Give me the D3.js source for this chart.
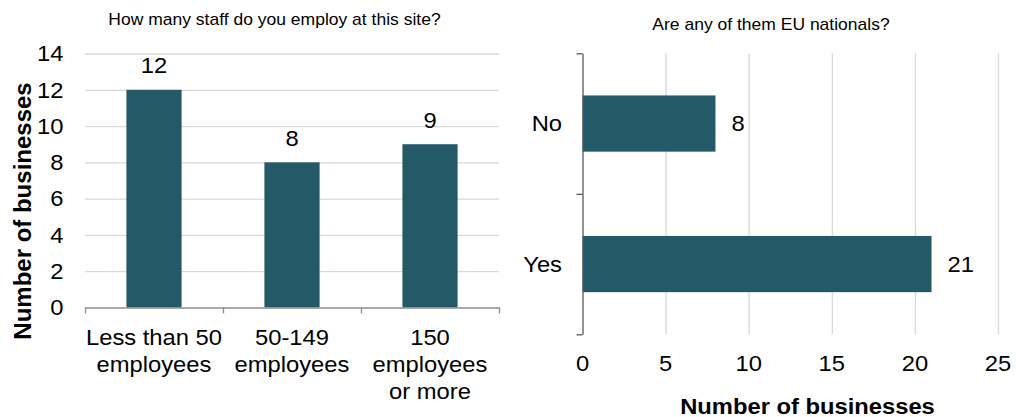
<!DOCTYPE html>
<html>
<head>
<meta charset="utf-8">
<script src="https://cdn.jsdelivr.net/npm/d3@7"></script>
<style>
  body { margin: 0; background: #fff; }
  text { font-family: "Liberation Sans", Arial, sans-serif; fill: #000; }
</style>
</head>
<body>
<svg id="chart" width="1019" height="417"></svg>
<script>
// Survey answers: staff headcount at the site
const sizeCategories = [["Less than 50", "employees"], ["50-149", "employees"], ["150", "employees", "or more"]];
const sizeCounts = [12, 8, 9];
const sizeTicks = [0, 2, 4, 6, 8, 10, 12, 14];

// Survey answers: whether any staff are EU nationals
const euCategories = ["No", "Yes"];
const euCounts = [8, 21];
const euTicks = [0, 5, 10, 15, 20, 25];

const BAR = "#245a68";
const GRID = "#d9d9d9";
const SX = 1.08; // slight horizontal widening of the typeface
const FS = 22;   // label font size

const svg = d3.select("#chart");

function label(g, x, y, str, size, anchor, weight) {
  return g.append("text")
    .attr("transform", `translate(${x},${y}) scale(${SX},1)`)
    .attr("text-anchor", anchor || "middle")
    .style("font-size", size + "px")
    .style("font-weight", weight || "normal")
    .text(str);
}

// ---------- Left: vertical bars ----------
const left = svg.append("g");
const xL = d3.scaleBand().domain(d3.range(sizeCategories.length)).range([85, 499])
  .paddingInner(0.6).paddingOuter(0.3);
const xLEdges = d3.scaleLinear().domain([0, sizeCategories.length]).range([85, 499]);
const yL = d3.scaleLinear().domain([0, 14]).range([307.5, 53.5]);

// horizontal gridlines
left.append("g")
  .attr("transform", "translate(85,0)")
  .call(d3.axisLeft(yL).tickValues(sizeTicks.filter(d => d > 0)).tickSize(-414).tickFormat(""))
  .call(g => g.select(".domain").remove())
  .call(g => g.selectAll(".tick line").attr("stroke", GRID).attr("stroke-width", 1.3));

// y tick labels
sizeTicks.forEach(t => {
  label(left, 63.5, yL(t) + 7.8, t, FS, "end");
});

// bars
left.selectAll("rect.bar").data(sizeCounts).join("rect")
  .attr("class", "bar")
  .attr("x", (d, i) => xL(i))
  .attr("width", xL.bandwidth())
  .attr("y", d => yL(d))
  .attr("height", d => yL(0) - yL(d))
  .attr("fill", BAR);

// value labels
sizeCounts.forEach((d, i) => {
  label(left, xL(i) + xL.bandwidth() / 2, yL(d) - 16.5, d, FS, "middle");
});

// category axis with ticks at band edges
left.append("g")
  .attr("transform", `translate(0,${yL(0)})`)
  .call(d3.axisBottom(xLEdges).tickValues(d3.range(sizeCategories.length + 1)).tickSize(6).tickSizeOuter(0).tickFormat(""))
  .call(g => g.selectAll("path, line").attr("stroke", "#8c8c8c").attr("stroke-width", 1.3));

sizeCategories.forEach((lines, i) => {
  lines.forEach((ln, j) => {
    label(left, xL(i) + xL.bandwidth() / 2, 344.5 + j * 27, ln, FS, "middle");
  });
});

label(left, 274.5, 24.5, "How many staff do you employ at this site?", 16.2, "middle");

left.append("text")
  .attr("transform", "translate(31,211) rotate(-90)")
  .attr("text-anchor", "middle")
  .style("font-size", "24px")
  .style("font-weight", "bold")
  .text("Number of businesses");

// ---------- Right: horizontal bars ----------
const right = svg.append("g");
const xR = d3.scaleLinear().domain([0, 25]).range([582.5, 998]);
const yR = d3.scaleBand().domain(euCategories).range([53.3, 334.3])
  .paddingInner(0.6).paddingOuter(0.3);
const yREdges = d3.scaleLinear().domain([0, euCategories.length]).range([53.3, 334.3]);

// vertical gridlines
right.append("g")
  .attr("transform", "translate(0,334.3)")
  .call(d3.axisBottom(xR).tickValues(euTicks.filter(d => d > 0)).tickSize(-281).tickFormat(""))
  .call(g => g.select(".domain").remove())
  .call(g => g.selectAll(".tick line").attr("stroke", GRID).attr("stroke-width", 1.3));

// x tick labels
euTicks.forEach(t => {
  label(right, xR(t), 370.5, t, FS, "middle");
});

// bars
right.selectAll("rect.bar").data(euCounts).join("rect")
  .attr("class", "bar")
  .attr("x", xR(0))
  .attr("y", (d, i) => yR(euCategories[i]))
  .attr("height", yR.bandwidth())
  .attr("width", d => xR(d) - xR(0))
  .attr("fill", BAR);

// value labels
euCounts.forEach((d, i) => {
  label(right, xR(d) + 16, yR(euCategories[i]) + yR.bandwidth() / 2 + 7.8, d, FS, "start");
});

// category axis with ticks at band edges
right.append("g")
  .attr("transform", `translate(${xR(0)},0)`)
  .call(d3.axisLeft(yREdges).tickValues(d3.range(euCategories.length + 1)).tickSize(6).tickSizeOuter(0).tickFormat(""))
  .call(g => g.selectAll("path, line").attr("stroke", "#595959").attr("stroke-width", 1.3));

euCategories.forEach(c => {
  label(right, 562, yR(c) + yR.bandwidth() / 2 + 7.8, c, FS, "end");
});

label(right, 771, 29.5, "Are any of them EU nationals?", 16.2, "middle");
label(right, 807.5, 413.5, "Number of businesses", 22, "middle", "bold");
</script>
</body>
</html>
